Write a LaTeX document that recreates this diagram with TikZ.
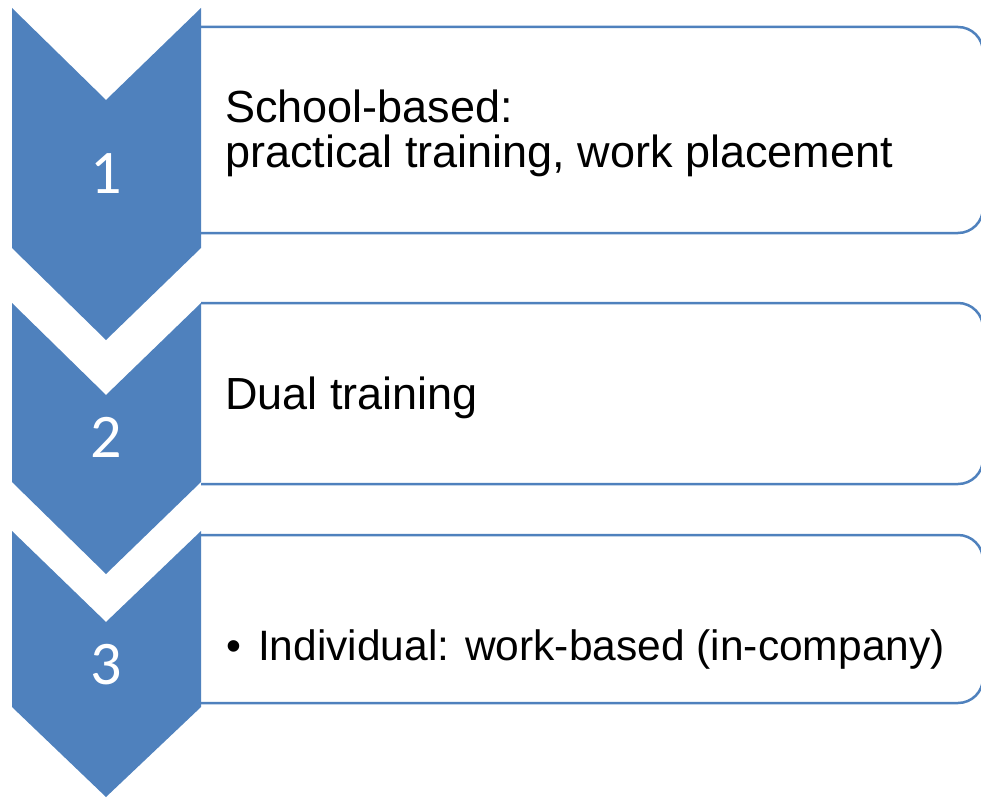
\documentclass[tikz,border=0pt]{standalone}
\usepackage{fontspec}
\setmainfont{Liberation Sans}
\newfontfamily\numfont{Carlito}
\usepackage{xcolor}
\definecolor{chevblue}{HTML}{4F81BD}

\tikzset{
  chevron/.style={fill=chevblue, draw=none},
  stepbox/.style={draw=chevblue, line width=2.5pt, fill=white, rounded corners=25pt},
  stepnum/.style={text=white, font=\numfont\fontsize{62}{62}\selectfont, inner sep=0pt},
  steptext/.style={font=\fontsize{45}{45}\selectfont, align=left, inner sep=0pt, anchor=base west}
}

\begin{document}
\begin{tikzpicture}[x=1pt, y=-1pt]
    \useasboundingbox (0,0) rectangle (981,797);
    \clip (0,0) rectangle (981,797);

    % Boxes (right side rounded, runs past the edge)
    \draw[stepbox] (201,27) -- (983,27) -- (983,233) -- (201,233);
    \draw[stepbox] (201,303) -- (983,303) -- (983,484) -- (201,484);
    \draw[stepbox] (201,535) -- (983,535) -- (983,703) -- (201,703);

    % Chevrons
    \fill[chevron] (12,8) -- (106,100) -- (201,8) -- (201,248) -- (106,340) -- (12,248) -- cycle;
    \fill[chevron] (12,303) -- (106,395) -- (201,303) -- (201,482) -- (106,574) -- (12,482) -- cycle;
    \fill[chevron] (12,531) -- (106,622) -- (201,531) -- (201,707) -- (106,797) -- (12,707) -- cycle;

    % Numbers
    \node[stepnum] (num1) at (106,174) {1};
    \node[stepnum] (num2) at (106,437) {2};
    \node[stepnum] (num3) at (106,665) {3};

    % Texts
    \node[steptext] (text1) at (225,167) {School-based:\\practical training, work placement};
    \node[steptext] (text2) at (225,409) {Dual training};
    \node[steptext, font=\fontsize{42.5}{45}\selectfont] (text3) at (226,660)
        {\makebox[32pt][l]{\textbullet}Individual: work-based (in-company)};
\end{tikzpicture}
\end{document}
